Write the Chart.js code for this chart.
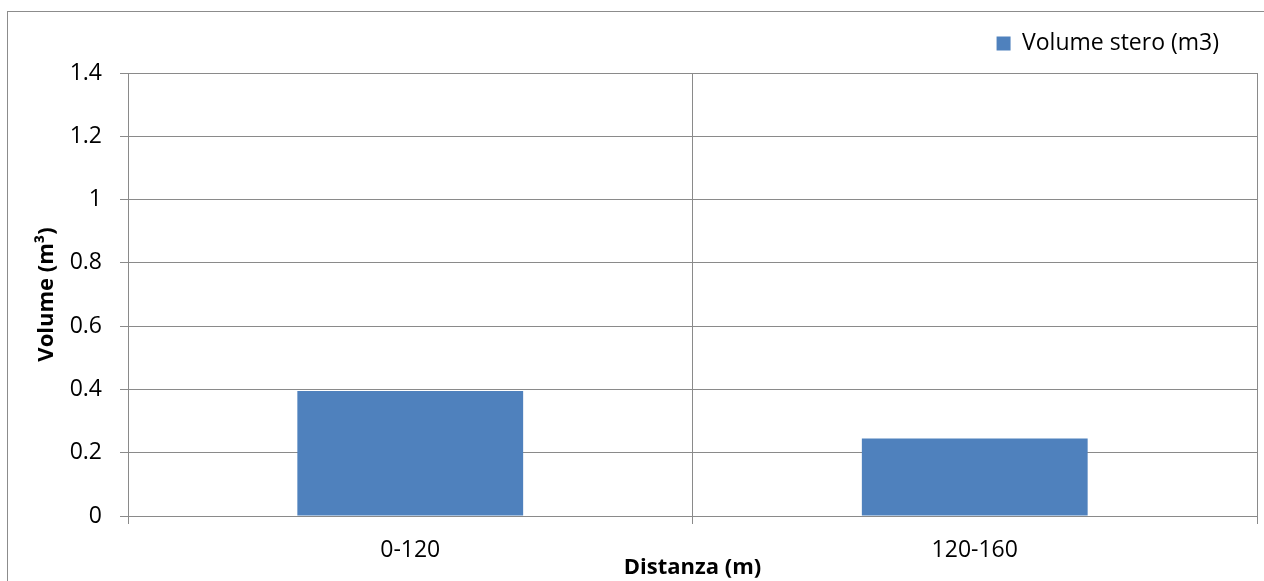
<!DOCTYPE html>
<html lang="it">
<head>
  <meta charset="UTF-8" />
  <title>Volume stero per distanza</title>
  <script src="https://cdn.jsdelivr.net/npm/chart.js@4.4.1/dist/chart.umd.min.js"></script>
  <style>
    * { box-sizing: border-box; margin: 0; padding: 0; }
    body { width: 1264px; height: 581px; background: #fff; overflow: hidden; position: relative; }
    .frame {
      position: absolute;
      left: 7px;
      top: 11px;
      width: 1300px;
      height: 620px;
      border: 1px solid #8c8c8c;
    }
    .chart-box {
      position: absolute;
      left: 0;
      top: 0;
      width: 1264px;
      height: 581px;
    }
  </style>
</head>
<body>
  <div class="frame"></div>
  <div class="chart-box">
    <canvas id="volChart"></canvas>
  </div>

  <script>
    const categories = ['0-120', '120-160'];
    const volumes = [0.395, 0.245];
    const seriesName = 'Volume stero (m3)';
    const yTicks = [0, 0.2, 0.4, 0.6, 0.8, 1, 1.2, 1.4];

    const FONT = '"Open Sans", "Liberation Sans", sans-serif';
    const GRID = '#8a8a8a';

    // nudge the legend into the top-right corner without moving the plot area
    const legendShift = {
      id: 'legendShift',
      afterLayout(chart) {
        const lg = chart.legend;
        if (!lg) return;
        lg.left -= 38; lg.right -= 38;
        lg.top -= 8; lg.bottom -= 8;
      }
    };

    new Chart(document.getElementById('volChart'), {
      type: 'bar',
      data: {
        labels: categories,
        datasets: [{
          label: seriesName,
          data: volumes,
          backgroundColor: '#4f81bd',
          borderWidth: 0,
          categoryPercentage: 1,
          barPercentage: 0.4
        }]
      },
      plugins: [legendShift],
      options: {
        responsive: true,
        maintainAspectRatio: false,
        animation: false,
        layout: { padding: { top: 40, right: 7, left: 0, bottom: 0 } },
        plugins: {
          tooltip: { enabled: false },
          legend: {
            position: 'top',
            align: 'end',
            labels: {
              color: '#000',
              font: { family: FONT, size: 23 },
              boxWidth: 14,
              boxHeight: 14,
              padding: 0
            }
          }
        },
        scales: {
          x: {
            grid: { color: GRID, offset: true, tickLength: 8 },
            border: { color: GRID },
            ticks: { color: '#000', font: { family: FONT, size: 23 }, padding: 13 },
            title: {
              display: true,
              text: 'Distanza (m)',
              color: '#000',
              font: { family: FONT, size: 22, weight: 'bold' },
              padding: 0
            },
            afterFit: s => { s.height = 65; }
          },
          y: {
            min: 0,
            max: 1.4,
            afterBuildTicks: s => { s.ticks = yTicks.map(v => ({ value: v })); },
            grid: { color: GRID, tickLength: 8 },
            border: { color: GRID },
            ticks: {
              color: '#000',
              font: { family: FONT, size: 23 },
              padding: 18,
              callback: v => String(v)
            },
            title: {
              display: true,
              text: 'Volume (m³)',
              color: '#000',
              font: { family: FONT, size: 22, weight: 'bold' },
              padding: { top: 34, bottom: 0 }
            },
            afterFit: s => { s.width = 128; }
          }
        }
      }
    });
  </script>
</body>
</html>
